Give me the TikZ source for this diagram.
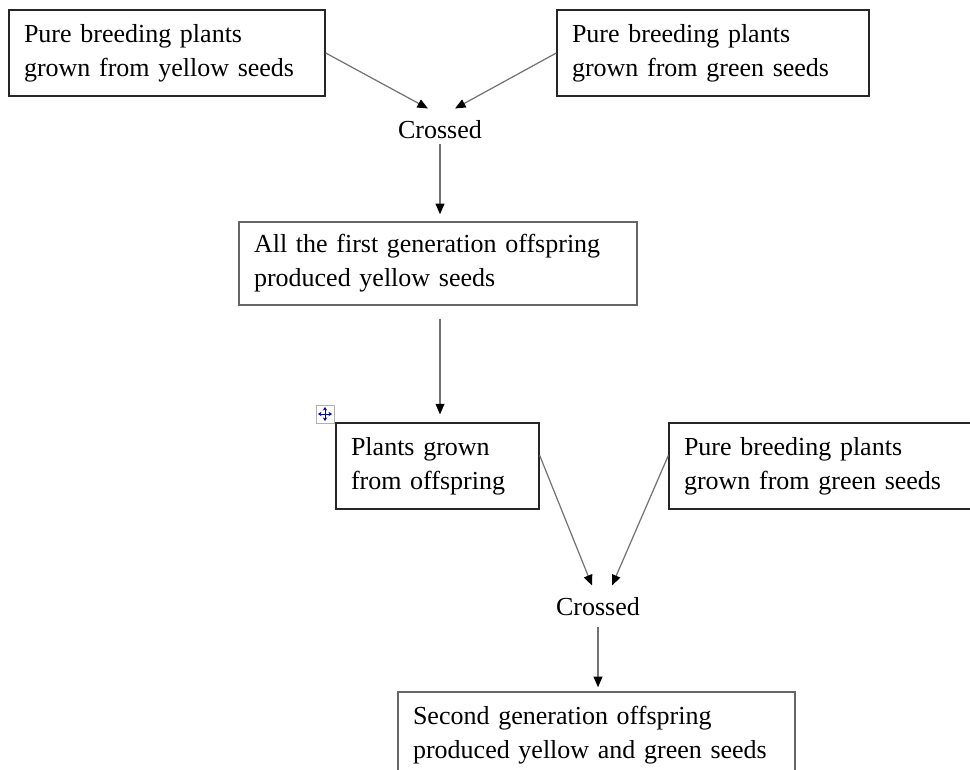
\documentclass[tikz,border=0pt]{standalone}
\usepackage{fontspec}
\setmainfont{Liberation Serif}
\usetikzlibrary{arrows.meta}

\begin{document}
\begin{tikzpicture}[x=0.02cm, y=-0.02cm,
    box/.style={draw=black!85, line width=0.8pt, inner xsep=0.3cm, align=left, font=\fontsize{14.8}{19.4}\selectfont},
    word/.style={inner sep=0pt, font=\fontsize{14.8}{19.4}\selectfont},
    link/.style={-{Triangle[length=6pt,width=5pt,color=black]}, draw=black!55, line width=0.7pt}]
    \useasboundingbox (0,0) rectangle (970,770);
    \clip (0,0) rectangle (970,770);
    %first cross
    \node[box, minimum height=1.72cm, text width=5.72cm] at (167,53) (Yel){ Pure breeding plants\\grown from yellow seeds };
    \node[box, minimum height=1.72cm, text width=5.64cm] at (713,53) (Grn){ Pure breeding plants\\grown from green seeds };
    \node[word] at (440,130) (Cross1){ Crossed };
    \node[box, minimum height=1.66cm, text width=7.36cm, draw=black!60] at (438,263.5) (Gen1){ All the first generation offspring\\produced yellow seeds };
    \draw[link] (Yel.east) -- ([shift={(-12,-12)}]Cross1.north);
    \draw[link] (Grn.west) -- ([shift={(15,-12)}]Cross1.north);
    \draw[link, shorten <=2.8pt, shorten >=4pt] (Cross1.south) -- (Cross1.south |- Gen1.north);
    %second cross
    \node[box, minimum height=1.72cm, text width=3.46cm] at (437.5,466) (Off){ Plants grown\\from offspring };
    \node[box, minimum height=1.72cm, text width=6.0cm] at (834,466) (Grn2){ Pure breeding plants\\grown from green seeds };
    \node[word] at (598,607) (Cross2){ Crossed };
    \node[box, minimum height=1.72cm, text width=7.34cm, draw=black!60] at (596.5,735) (Gen2){ Second generation offspring\\produced yellow and green seeds };
    \draw[link, shorten <=7.4pt, shorten >=4.5pt] (Cross1 |- Gen1.south) -- (Cross1 |- Off.north);
    \draw[link] ([yshift=6]Off.east) -- ([shift={(-6,-12)}]Cross2.north);
    \draw[link] ([yshift=6]Grn2.west) -- ([shift={(14,-12)}]Cross2.north);
    \draw[link, shorten <=6.2pt, shorten >=2.3pt] (Cross2.south) -- (Cross2.south |- Gen2.north);
    %move handle
    \draw[draw=black!30, fill=white] (316,405) rectangle (334,423);
    \foreach \dx/\dy in {0/-7, 0/7, -7/0, 7/0}
      \draw[blue!75!black, line width=0.5pt, -{Stealth[length=2pt,width=2.5pt]}] (325,414) -- ++(\dx,\dy);
  \end{tikzpicture}
\end{document}
